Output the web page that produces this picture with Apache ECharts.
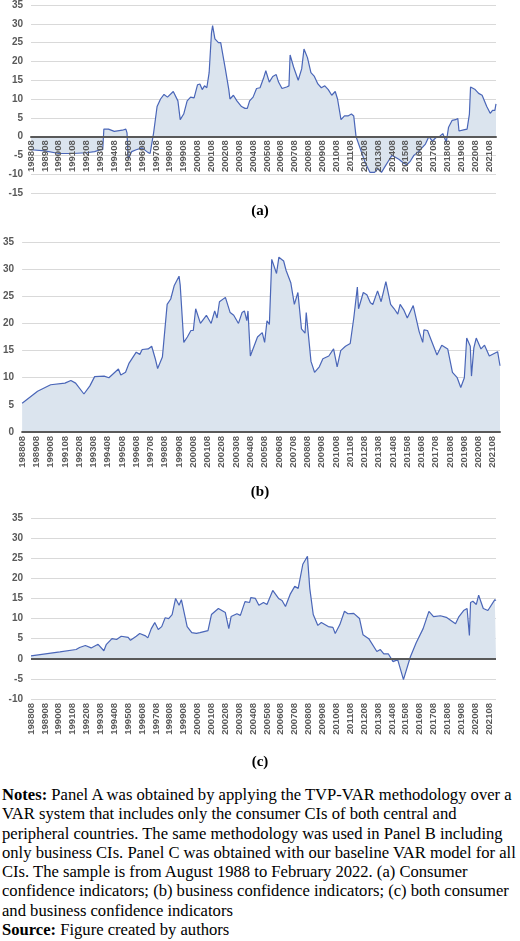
<!DOCTYPE html>
<html>
<head>
<meta charset="utf-8">
<script src="https://cdn.jsdelivr.net/npm/echarts@6/dist/echarts.min.js"></script>
<style>
  body { margin: 0; background: #fff; }
  #chart { width: 520px; height: 775px; }
  #notes { position: absolute; top: 785px; left: 2px; width: 518px;
    font-family: "Liberation Serif", serif; font-size: 16.6px; line-height: 19.3px; color: #000; white-space: nowrap; }
</style>
</head>
<body>
<div id="chart"></div>
<div id="notes">
<b>Notes:</b> Panel A was obtained by applying the TVP-VAR methodology over a<br>
VAR system that includes only the consumer CIs of both central and<br>
peripheral countries. The same methodology was used in Panel B including<br>
only business CIs. Panel C was obtained with our baseline VAR model for all<br>
CIs. The sample is from August 1988 to February 2022. (a) Consumer<br>
confidence indicators; (b) business confidence indicators; (c) both consumer<br>
and business confidence indicators<br>
<b>Source:</b> Figure created by authors
</div>
<script>
// monthly categories 198808 .. 202202
const months = [];
for (let y = 1988, m = 8; y < 2022 || (y === 2022 && m <= 2); m++) {
  if (m > 12) { m = 1; y++; }
  if (y === 2022 && m > 2) break;
  months.push(String(y) + String(m).padStart(2, '0'));
}

// Panel A: consumer CIs (date, value)
const panelA = [
  ['198808', -3.5], ['198908', -3.8], ['199008', -4.5], ['199108', -4.5], ['199208', -4.3],
  ['199303', -4.0], ['199308', -3.5], ['199310', -3.5], ['199311', 2.0], ['199403', 2.0],
  ['199408', 1.4], ['199503', 1.7], ['199506', 2.0], ['199507', 1.0], ['199508', -6.0],
  ['199511', -4.0], ['199603', -3.5], ['199608', -3.0], ['199701', -4.2], ['199703', -4.5],
  ['199706', 1.0], ['199709', 8.0], ['199712', 10.0], ['199803', 11.2], ['199806', 10.5],
  ['199811', 12.0], ['199903', 9.5], ['199905', 4.5], ['199908', 6.0], ['199911', 9.5],
  ['200002', 10.5], ['200005', 10.3], ['200008', 13.8], ['200010', 14.0], ['200012', 12.5],
  ['200102', 13.5], ['200104', 13.0], ['200106', 17.0], ['200108', 27.5], ['200109', 29.5],
  ['200111', 26.0], ['200202', 25.0], ['200204', 25.0], ['200208', 18.0], ['200211', 12.5],
  ['200212', 10.0], ['200303', 11.0], ['200306', 9.5], ['200310', 8.0], ['200401', 7.5],
  ['200403', 7.5], ['200405', 9.5], ['200408', 10.5], ['200411', 12.8], ['200502', 13.0],
  ['200505', 15.5], ['200507', 17.5], ['200510', 14.5], ['200601', 16.0], ['200604', 16.5],
  ['200606', 14.5], ['200609', 12.8], ['200701', 13.2], ['200703', 13.5], ['200704', 21.7],
  ['200707', 18.5], ['200711', 15.0], ['200802', 18.0], ['200804', 23.3], ['200807', 21.0],
  ['200810', 17.0], ['200901', 16.0], ['200904', 14.0], ['200907', 13.0], ['200910', 13.5],
  ['201001', 12.5], ['201004', 11.0], ['201007', 12.0], ['201009', 10.0], ['201012', 4.5],
  ['201103', 5.5], ['201106', 5.5], ['201109', 6.0], ['201111', 5.5], ['201201', 0.0],
  ['201205', -3.5], ['201209', -7.0], ['201301', -9.5], ['201305', -9.5], ['201308', -8.5],
  ['201311', -9.5], ['201402', -8.0], ['201405', -6.5], ['201408', -5.0], ['201411', -5.5],
  ['201502', -6.0], ['201506', -7.0], ['201509', -7.5], ['201512', -6.5], ['201603', -5.0],
  ['201607', -4.0], ['201610', -3.0], ['201701', -2.0], ['201704', 0.0], ['201707', -1.2],
  ['201710', -0.3], ['201801', 0.0], ['201804', 0.8], ['201807', -1.5], ['201809', 2.5],
  ['201812', 4.3], ['201903', 4.5], ['201905', 4.8], ['201906', 1.5], ['201910', 1.8],
  ['202001', 2.0], ['202003', 6.0], ['202004', 13.2], ['202008', 12.5], ['202011', 11.5],
  ['202102', 11.0], ['202106', 8.0], ['202109', 6.2], ['202111', 7.0], ['202201', 7.0],
  ['202202', 8.7]
];

// Panel B: business CIs
const panelB = [
  ['198808', 5.3], ['198909', 7.5], ['199008', 8.7], ['199108', 9.0], ['199201', 9.5],
  ['199205', 9.0], ['199212', 7.0], ['199305', 8.5], ['199309', 10.2], ['199405', 10.3],
  ['199409', 10.0], ['199505', 11.6], ['199507', 10.5], ['199511', 11.0], ['199602', 12.7],
  ['199608', 14.7], ['199611', 14.3], ['199701', 15.2], ['199706', 15.3], ['199709', 15.8],
  ['199712', 13.5], ['199802', 11.7], ['199806', 13.8], ['199810', 23.5], ['199901', 24.5],
  ['199904', 27.0], ['199908', 28.7], ['199909', 27.0], ['199912', 16.5], ['200003', 17.5],
  ['200006', 18.7], ['200008', 18.7], ['200010', 22.7], ['200102', 20.0], ['200107', 21.5],
  ['200111', 20.0], ['200202', 22.3], ['200204', 21.0], ['200206', 24.0], ['200211', 24.8],
  ['200303', 22.0], ['200306', 21.5], ['200310', 20.0], ['200401', 22.0], ['200403', 22.3],
  ['200405', 20.5], ['200406', 22.3], ['200408', 14.0], ['200502', 17.5], ['200506', 18.3],
  ['200508', 16.5], ['200510', 20.5], ['200512', 19.8], ['200602', 31.8], ['200606', 29.2],
  ['200608', 32.2], ['200612', 31.5], ['200702', 29.8], ['200706', 27.5], ['200709', 23.5],
  ['200712', 25.7], ['200803', 19.0], ['200806', 18.2], ['200807', 22.0], ['200811', 13.0],
  ['200902', 11.0], ['200906', 12.0], ['200909', 13.5], ['201002', 14.0], ['201006', 15.3],
  ['201009', 12.0], ['201012', 15.0], ['201104', 15.8], ['201108', 16.3], ['201111', 21.0],
  ['201202', 26.7], ['201203', 22.7], ['201207', 25.7], ['201210', 25.3], ['201301', 23.8],
  ['201303', 23.5], ['201307', 26.0], ['201310', 24.0], ['201402', 27.7], ['201406', 23.5],
  ['201409', 22.7], ['201412', 21.7], ['201502', 23.5], ['201505', 22.5], ['201508', 21.0],
  ['201601', 23.3], ['201606', 18.5], ['201609', 16.5], ['201610', 18.8], ['201701', 18.7],
  ['201704', 17.0], ['201709', 14.2], ['201801', 16.0], ['201806', 15.3], ['201810', 11.0],
  ['201902', 10.0], ['201905', 8.2], ['201908', 10.0], ['201910', 17.3], ['202001', 15.8],
  ['202002', 10.3], ['202004', 15.5], ['202006', 17.3], ['202010', 15.3], ['202101', 16.0],
  ['202105', 14.0], ['202112', 14.8], ['202202', 12.2]
];

// Panel C: consumer and business CIs
const panelC = [
  ['198808', 0.7], ['199009', 1.7], ['199111', 2.3], ['199202', 2.8], ['199207', 3.3],
  ['199212', 2.7], ['199306', 3.6], ['199311', 2.0], ['199401', 3.5], ['199406', 5.0],
  ['199410', 4.8], ['199502', 5.6], ['199508', 5.3], ['199510', 4.6], ['199603', 5.6],
  ['199606', 6.3], ['199611', 5.7], ['199701', 5.2], ['199704', 7.5], ['199707', 9.0],
  ['199710', 7.3], ['199801', 8.0], ['199804', 10.2], ['199807', 10.0], ['199810', 11.0],
  ['199901', 15.0], ['199904', 13.3], ['199906', 14.7], ['199911', 8.0], ['200003', 6.5],
  ['200007', 6.3], ['200010', 6.5], ['200105', 7.0], ['200108', 11.0], ['200202', 12.5],
  ['200208', 11.5], ['200211', 7.5], ['200301', 10.5], ['200306', 11.2], ['200309', 10.8],
  ['200401', 14.2], ['200405', 14.0], ['200406', 15.2], ['200410', 15.0], ['200501', 13.3],
  ['200505', 14.0], ['200508', 13.5], ['200601', 17.0], ['200606', 15.0], ['200609', 14.5],
  ['200612', 13.0], ['200704', 16.0], ['200708', 18.0], ['200711', 17.5], ['200803', 23.5],
  ['200807', 25.5], ['200809', 17.5], ['200812', 11.0], ['200904', 8.3], ['200907', 9.0],
  ['201001', 8.0], ['201005', 7.8], ['201007', 6.3], ['201011', 8.5], ['201103', 11.8],
  ['201106', 11.2], ['201111', 11.3], ['201204', 10.0], ['201207', 6.0], ['201212', 5.0],
  ['201307', 1.8], ['201310', 2.3], ['201401', 1.2], ['201405', 1.2], ['201409', -0.7],
  ['201501', -0.2], ['201506', -5.2], ['201512', 0.5], ['201605', 4.0], ['201611', 7.5],
  ['201704', 11.8], ['201708', 10.5], ['201802', 10.7], ['201807', 10.3], ['201903', 8.7],
  ['201906', 10.5], ['201910', 12.0], ['202001', 12.5], ['202003', 5.8], ['202004', 14.0],
  ['202006', 14.3], ['202009', 13.5], ['202011', 15.8], ['202103', 12.5], ['202107', 12.0],
  ['202201', 14.7], ['202202', 14.5]
];

const LINE = '#4a66b8';
const FILL = '#dbe4ee';
const GRID_LINE = '#d9d9d9';
const LABEL = '#595959';

function xAxisFor(gridIndex, showLine, offset) {
  return {
    gridIndex, type: 'category', data: months, boundaryGap: false, offset: offset || 0,
    axisLine: { show: showLine, onZero: false, lineStyle: { color: '#595959', width: 2 } },
    axisTick: { show: false },
    axisLabel: {
      interval: 11, rotate: 90, fontSize: 9.5, fontWeight: 'bold', color: LABEL,
      fontFamily: 'Liberation Sans', margin: 4
    },
    z: 5
  };
}
function yAxisFor(gridIndex, min, max) {
  return {
    gridIndex, type: 'value', min, max, interval: 5,
    axisLine: { show: false }, axisTick: { show: false },
    splitLine: { lineStyle: { color: GRID_LINE, width: 1 } },
    axisLabel: { fontSize: 10, fontWeight: 'bold', color: LABEL, fontFamily: 'Liberation Sans', margin: 8 }
  };
}
function areaSeries(idx, data, extra) {
  return Object.assign({
    type: 'line', xAxisIndex: idx, yAxisIndex: idx, data, symbol: 'none',
    lineStyle: { color: LINE, width: 1.2 },
    areaStyle: { color: FILL, opacity: 1, origin: 0 },
    z: 2
  }, extra || {});
}

const chart = echarts.init(document.getElementById('chart'));
chart.setOption({
  animation: false,
  grid: [
    { left: 31, right: 24, top: 4, height: 189 },
    { left: 21, right: 20, top: 242, height: 190 },
    { left: 31, right: 24, top: 518, height: 181 }
  ],
  // panel A's axis sits on the zero line: 15 of 50 units above the grid bottom
  xAxis: [xAxisFor(0, true, -189 * 15 / 50), xAxisFor(1, true), xAxisFor(2, false)],
  yAxis: [yAxisFor(0, -15, 35), yAxisFor(1, 0, 35), yAxisFor(2, -10, 35)],
  series: [
    areaSeries(0, panelA),
    areaSeries(1, panelB),
    areaSeries(2, panelC, {
      markLine: {
        silent: true, symbol: 'none', label: { show: false },
        lineStyle: { color: '#595959', width: 2, type: 'solid' },
        data: [{ yAxis: 0 }]
      }
    })
  ],
  graphic: [
    { type: 'text', left: 'center', top: 204, style: { text: '(a)', font: 'bold 15px "Liberation Serif"', fill: '#000' } },
    { type: 'text', left: 'center', top: 485, style: { text: '(b)', font: 'bold 15px "Liberation Serif"', fill: '#000' } },
    { type: 'text', left: 'center', top: 755, style: { text: '(c)', font: 'bold 15px "Liberation Serif"', fill: '#000' } }
  ]
});
</script>
</body>
</html>
